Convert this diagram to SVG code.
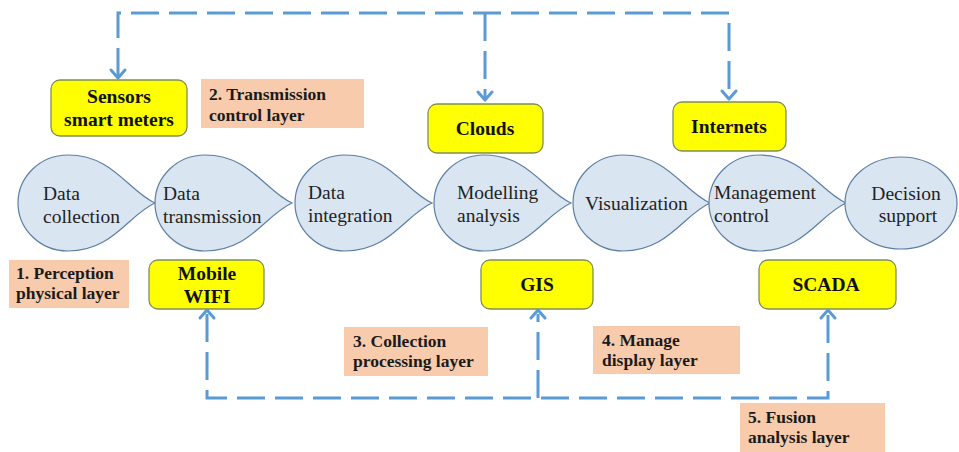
<svg xmlns="http://www.w3.org/2000/svg" width="959" height="452" viewBox="0 0 959 452">
  <defs>
    <style>
      .drop { fill: #dae5f2; stroke: #5d7fa3; stroke-width: 1.2; }
      .dtxt { font-family: "Liberation Serif", "DejaVu Serif", "Noto Serif", serif; font-size: 19.5px; fill: #222; }
      .ybox { fill: #ffff00; stroke: #7f8f55; stroke-width: 1.3; }
      .ytxt { font-family: "Liberation Serif", "DejaVu Serif", "Noto Serif", serif; font-size: 19.5px; font-weight: bold; fill: #111; text-anchor: middle; }
      .obox { fill: #f8cbad; stroke: none; }
      .otxt { font-family: "Liberation Serif", "DejaVu Serif", "Noto Serif", serif; font-size: 17.5px; font-weight: bold; fill: #1a1a1a; }
      .link { fill: none; stroke: #5b9bd5; stroke-width: 3; stroke-dasharray: 28 10; }
      .head { fill: none; stroke: #5b9bd5; stroke-width: 3; stroke-linecap: round; stroke-linejoin: round; }
    </style>
    <path id="tear" d="M137,0 C110,-12 95,-48 50,-48 C22,-48 0,-26 0,0 C0,26 22,48 50,48 C95,48 110,12 137,0 Z"/>
  </defs>

  <rect width="959" height="452" fill="#ffffff"/>

  <!-- process flow -->
  <g id="data-collection">
    <use href="#tear" class="drop" transform="translate(18,203)"/>
    <text class="dtxt" x="43" y="200">Data</text>
    <text class="dtxt" x="43" y="223">collection</text>
  </g>
  <g id="data-transmission">
    <use href="#tear" class="drop" transform="translate(155,203)"/>
    <text class="dtxt" x="163" y="200">Data</text>
    <text class="dtxt" x="163" y="223">transmission</text>
  </g>
  <g id="data-integration">
    <use href="#tear" class="drop" transform="translate(295,203)"/>
    <text class="dtxt" x="308" y="199">Data</text>
    <text class="dtxt" x="308" y="222">integration</text>
  </g>
  <g id="modelling-analysis">
    <use href="#tear" class="drop" transform="translate(434,203)"/>
    <text class="dtxt" x="457" y="199">Modelling</text>
    <text class="dtxt" x="457" y="222">analysis</text>
  </g>
  <g id="visualization">
    <use href="#tear" class="drop" transform="translate(573,203)"/>
    <text class="dtxt" x="585" y="210">Visualization</text>
  </g>
  <g id="management-control">
    <use href="#tear" class="drop" transform="translate(709,203)"/>
    <text class="dtxt" x="714" y="199">Management</text>
    <text class="dtxt" x="714" y="222">control</text>
  </g>
  <g id="decision-support">
    <ellipse class="drop" cx="901" cy="203" rx="56" ry="46"/>
    <text class="dtxt" x="906" y="200" text-anchor="middle">Decision</text>
    <text class="dtxt" x="908" y="222" text-anchor="middle">support</text>
  </g>

  <!-- technology boxes -->
  <g id="sensors">
    <rect class="ybox" x="51" y="80" width="136" height="56" rx="9"/>
    <text class="ytxt" x="119" y="103">Sensors</text>
    <text class="ytxt" x="119" y="126">smart meters</text>
  </g>
  <g id="clouds">
    <rect class="ybox" x="428" y="104" width="115" height="49" rx="9"/>
    <text class="ytxt" x="485" y="135">Clouds</text>
  </g>
  <g id="internets">
    <rect class="ybox" x="673" y="102" width="113" height="49" rx="9"/>
    <text class="ytxt" x="729" y="133">Internets</text>
  </g>
  <g id="mobile-wifi">
    <rect class="ybox" x="149" y="260" width="115" height="49" rx="9"/>
    <text class="ytxt" x="207" y="280">Mobile</text>
    <text class="ytxt" x="207" y="303">WIFI</text>
  </g>
  <g id="gis">
    <rect class="ybox" x="481" y="260" width="112" height="49" rx="9"/>
    <text class="ytxt" x="537" y="291">GIS</text>
  </g>
  <g id="scada">
    <rect class="ybox" x="759" y="260" width="137" height="49" rx="9"/>
    <text class="ytxt" x="826" y="291">SCADA</text>
  </g>

  <!-- layer labels -->
  <g id="layer-1">
    <rect class="obox" x="9" y="260" width="120" height="48"/>
    <text class="otxt" x="16" y="279">1. Perception</text>
    <text class="otxt" x="16" y="299">physical layer</text>
  </g>
  <g id="layer-2">
    <rect class="obox" x="201" y="79" width="163" height="49"/>
    <text class="otxt" x="209" y="100">2. Transmission</text>
    <text class="otxt" x="209" y="121">control layer</text>
  </g>
  <g id="layer-3">
    <rect class="obox" x="344" y="327" width="144" height="49"/>
    <text class="otxt" x="353" y="347">3. Collection</text>
    <text class="otxt" x="353" y="367">processing layer</text>
  </g>
  <g id="layer-4">
    <rect class="obox" x="593" y="326" width="147" height="48"/>
    <text class="otxt" x="602" y="346">4. Manage</text>
    <text class="otxt" x="602" y="366">display layer</text>
  </g>
  <g id="layer-5">
    <rect class="obox" x="740" y="403" width="145" height="49"/>
    <text class="otxt" x="748" y="423">5. Fusion</text>
    <text class="otxt" x="748" y="443">analysis layer</text>
  </g>

  <!-- dashed connectors -->
  <g id="connectors">
    <path class="link" d="M118,76 V13 H729 V97"/>
    <path class="link" d="M485,13 V98"/>
    <polyline class="head" points="111,70 118,78 125,70"/>
    <polyline class="head" points="478,92 485,100 492,92"/>
    <polyline class="head" points="722,91 729,99 736,91"/>

    <path class="link" d="M207,314 V398 H828 V314"/>
    <path class="link" d="M538,398 V314"/>
    <polyline class="head" points="200,318 207,310 214,318"/>
    <polyline class="head" points="531,318 538,310 545,318"/>
    <polyline class="head" points="821,318 828,310 835,318"/>
  </g>
</svg>
